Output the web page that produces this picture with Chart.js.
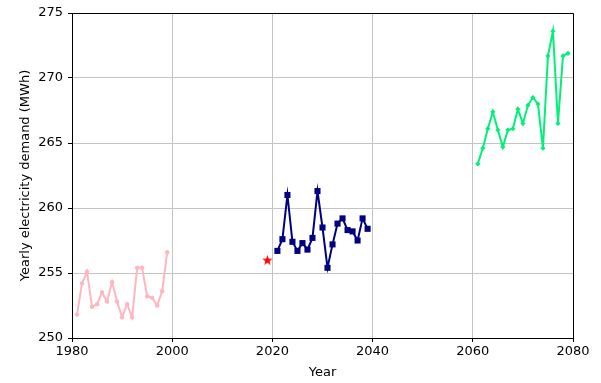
<!DOCTYPE html>
<html>
<head>
<meta charset="utf-8">
<script src="https://cdn.jsdelivr.net/npm/chart.js@4/dist/chart.umd.min.js"></script>
<style>
  html, body { margin: 0; padding: 0; background: #fff; }
  #wrap { width: 601px; height: 383px; }
</style>
</head>
<body>
<div id="wrap"><canvas id="chart" width="601" height="383"></canvas></div>
<script>
const pastYears = [1981, 1982, 1983, 1984, 1985, 1986, 1987, 1988, 1989, 1990,
  1991, 1992, 1993, 1994, 1995, 1996, 1997, 1998, 1999];
const pastDemand = [251.8, 254.2, 255.1, 252.4, 252.6, 253.5, 252.8, 254.3, 252.8, 251.6,
  252.6, 251.6, 255.4, 255.4, 253.2, 253.1, 252.5, 253.6, 256.6];

const nowYear = [2019];
const nowDemand = [256.0];

const midYears = [2021, 2022, 2023, 2024, 2025, 2026, 2027, 2028, 2029, 2030,
  2031, 2032, 2033, 2034, 2035, 2036, 2037, 2038, 2039];
const midDemand = [256.7, 257.6, 261.0, 257.4, 256.7, 257.3, 256.8, 257.7, 261.3, 258.5,
  255.4, 257.2, 258.8, 259.2, 258.3, 258.2, 257.5, 259.2, 258.4];

const farYears = [2061, 2062, 2063, 2064, 2065, 2066, 2067, 2068, 2069, 2070,
  2071, 2072, 2073, 2074, 2075, 2076, 2077, 2078, 2079];
const farDemand = [263.4, 264.6, 266.1, 267.4, 266.0, 264.7, 266.0, 266.1, 267.6, 266.5,
  267.9, 268.5, 268.0, 264.6, 271.7, 273.6, 266.5, 271.7, 271.9];

const xTicks = [1980, 2000, 2020, 2040, 2060, 2080];
const yTicks = [250, 255, 260, 265, 270, 275];

const FONT = 'DejaVu Sans';

function pairs(xs, ys) {
  return xs.map((x, i) => ({ x: x, y: ys[i] }));
}

// filled 5-point star, like matplotlib's '*' marker
function makeStar(size, color) {
  const c = document.createElement('canvas');
  c.width = size; c.height = size;
  const g = c.getContext('2d');
  const cx = size / 2, cy = size / 2 + 0.5;
  const outer = size / 2, inner = outer * 0.4;
  g.beginPath();
  for (let i = 0; i < 10; i++) {
    const r = i % 2 === 0 ? outer : inner;
    const a = -Math.PI / 2 + i * Math.PI / 5;
    const px = cx + r * Math.cos(a), py = cy + r * Math.sin(a);
    if (i === 0) g.moveTo(px, py); else g.lineTo(px, py);
  }
  g.closePath();
  g.fillStyle = color;
  g.fill();
  return c;
}

const boxPlugin = {
  id: 'box',
  afterDraw(chart) {
    const { ctx, chartArea: a } = chart;
    ctx.save();
    ctx.strokeStyle = '#000';
    ctx.lineWidth = 1;
    ctx.beginPath();
    ctx.moveTo(a.left, a.top + 0.5);
    ctx.lineTo(a.right + 0.5, a.top + 0.5);
    ctx.lineTo(a.right + 0.5, a.bottom);
    ctx.stroke();
    ctx.restore();
  }
};

new Chart(document.getElementById('chart'), {
  type: 'line',
  data: {
    datasets: [
      {
        data: pairs(pastYears, pastDemand),
        borderColor: '#ffb6c1', backgroundColor: '#ffb6c1',
        borderWidth: 2, pointStyle: 'circle', pointRadius: 2.2,
        pointBorderWidth: 0
      },
      {
        data: pairs(nowYear, nowDemand),
        showLine: false,
        pointStyle: makeStar(11, '#ff0000'),
        pointRadius: 5
      },
      {
        data: pairs(midYears, midDemand),
        borderColor: '#000080', backgroundColor: '#000080',
        borderWidth: 2, pointStyle: 'rect', pointRadius: 4.3,
        pointBorderWidth: 0
      },
      {
        data: pairs(farYears, farDemand),
        borderColor: '#00f07a', backgroundColor: '#00f07a',
        borderWidth: 2, pointStyle: 'rectRot', pointRadius: 2.6,
        pointBorderWidth: 0
      }
    ]
  },
  options: {
    responsive: false,
    animation: false,
    events: [],
    layout: { padding: { left: 8, right: 28, top: 13, bottom: 3 } },
    scales: {
      x: {
        type: 'linear', min: 1980, max: 2080,
        afterBuildTicks: s => { s.ticks = xTicks.map(v => ({ value: v })); },
        afterFit: s => { s.height = 42; },
        ticks: { color: '#000', font: { family: FONT, size: 13 }, padding: 2, maxRotation: 0, callback: v => String(v) },
        grid: { color: '#c4c4c4', lineWidth: 1, tickLength: 4, tickColor: '#000' },
        border: { color: '#000', width: 1 },
        title: { display: true, text: 'Year', color: '#000', font: { family: FONT, size: 13 }, padding: { top: 0, bottom: 0 } }
      },
      y: {
        type: 'linear', min: 250, max: 275,
        afterBuildTicks: s => { s.ticks = yTicks.map(v => ({ value: v })); },
        afterFit: s => { s.width = 64; },
        ticks: { color: '#000', font: { family: FONT, size: 13 }, padding: 5, callback: v => String(v) },
        grid: { color: '#c4c4c4', lineWidth: 1, tickLength: 4, tickColor: '#000' },
        border: { color: '#000', width: 1 },
        title: { display: true, text: 'Yearly electricity demand (MWh)', color: '#000', font: { family: FONT, size: 13 }, padding: { top: 10, bottom: 0 } }
      }
    },
    plugins: {
      legend: { display: false },
      tooltip: { enabled: false }
    }
  },
  plugins: [boxPlugin]
});
</script>
</body>
</html>
